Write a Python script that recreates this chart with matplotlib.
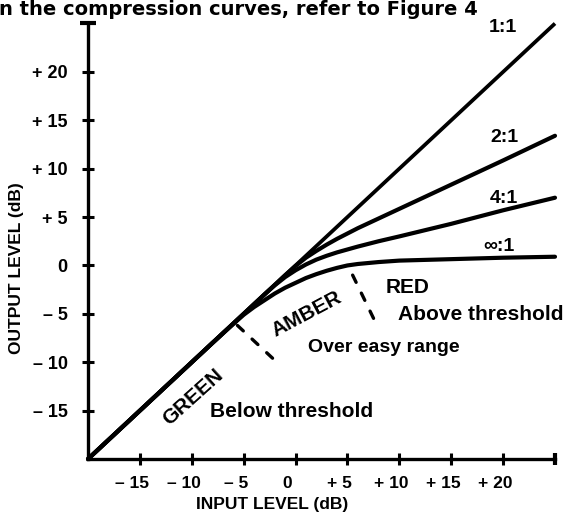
import matplotlib
matplotlib.use("Agg")
import matplotlib.pyplot as plt
import matplotlib.transforms as mtransforms

plt.rcParams["font.family"] = ["Liberation Sans", "DejaVu Sans"]
plt.rcParams["font.weight"] = "bold"

# --- data (dB) ---
input_db = [-20, -8, -6, -5, -4, -3, -2, -1, 0, 1, 2, 3, 4, 5, 6, 8, 10, 15, 20, 25]
out_1to1_x = [-20, 25]
out_1to1_y = [-20, 25]
out_2to1 = [-20, -8, -6, -5, -4, -3, -2, -1, -0.05, 0.8, 1.5, 2.15, 2.75, 3.3, 3.85,
            4.85, 5.85, 8.35, 10.85, 13.4]
out_4to1 = [-20, -8, -6, -5, -4, -3, -2.05, -1.2, -0.5, 0.1, 0.6, 1.0, 1.35, 1.65, 1.95,
            2.5, 3.0, 4.3, 5.7, 7.0]
out_inf = [-20, -8, -6.05, -5.1, -4.3, -3.6, -2.9, -2.3, -1.8, -1.3, -0.9, -0.55, -0.25,
           0.0, 0.15, 0.35, 0.5, 0.65, 0.8, 0.9]

ratio_labels = ["1:1", "2:1", "4:1", "\u221e:1"]
ratio_label_x = [20.0, 20.1, 20.1, 19.6]
ratio_label_y = [24.6, 13.2, 6.9, 1.95]

# region boundaries (green/amber, amber/red)
bound_ga_x = [-5.6, -2.0]
bound_ga_y = [-6.2, -9.8]
bound_ar_x = [5.5, 7.8]
bound_ar_y = [-1.0, -6.1]

x_ticks = [-15, -10, -5, 0, 5, 10, 15, 20]
x_ticklabels = ["\u2013 15", "\u2013 10", "\u2013 5", "0", "+ 5", "+ 10", "+ 15", "+ 20"]
y_ticks = [-15, -10, -5, 0, 5, 10, 15, 20]
y_ticklabels = ["\u2013 15", "\u2013 10", "\u2013 5", "0", "+ 5", "+ 10", "+ 15", "+ 20"]

W, H = 566, 523
fig = plt.figure(figsize=(W / 100, H / 100), dpi=100)
fig.patch.set_facecolor("white")
ax = fig.add_axes([88 / W, 1 - 459 / H, (555 - 88) / W, (459 - 23.5) / H])
ax.set_xlim(-20, 25)
ax.set_ylim(-20, 25)

# ---- curves ----
lw = 3.0
ax.plot(out_1to1_x, out_1to1_y, color="black", lw=2.7, solid_capstyle="butt",
        clip_on=False)
for ys in (out_2to1, out_4to1, out_inf):
    ax.plot(input_db, ys, color="black", lw=lw, solid_capstyle="round",
            solid_joinstyle="round", clip_on=False)

# ---- boundaries ----
for bx, by in ((bound_ga_x, bound_ga_y), (bound_ar_x, bound_ar_y)):
    ax.plot(bx, by, color="black", lw=2.4, ls=(0, (2.4, 3.6)),
            dash_capstyle="round")

# ---- text ----
for lab, lx, ly in zip(ratio_labels, ratio_label_x, ratio_label_y):
    ax.text(lx, ly, lab, fontsize=14, fontweight="bold", ha="center", va="center",
            clip_on=False)

ax.text(-9.85, -13.65, "GREEN", fontsize=15, fontweight="bold", rotation=42,
        ha="center", va="center", rotation_mode="anchor")
ax.text(1.06, -5.03, "AMBER", fontsize=15, fontweight="bold", rotation=28,
        ha="center", va="center", rotation_mode="anchor")
ax.text(8.7, -2.26, "RED", fontsize=15, fontweight="bold", ha="left", va="center")
ax.text(9.86, -5.1, "Above threshold", fontsize=15, fontweight="bold", ha="left",
        va="center", clip_on=False)
ax.text(8.5, -8.52, "Over easy range", fontsize=14, fontweight="bold", ha="center",
        va="center")
ax.text(-8.21, -15.1, "Below threshold", fontsize=15, fontweight="bold", ha="left",
        va="center")

# ---- axes styling ----
for side in ("top", "right"):
    ax.spines[side].set_visible(False)
for side in ("left", "bottom"):
    ax.spines[side].set_linewidth(2.4)
ax.set_xticks(x_ticks)
ax.set_xticklabels(x_ticklabels)
ax.set_yticks(y_ticks)
ax.set_yticklabels(y_ticklabels)
ax.tick_params(axis="both", direction="inout", length=9, width=2.2)
ax.tick_params(axis="x", labelsize=12.5, pad=8)
ax.tick_params(axis="y", labelsize=13, pad=10)
shift = mtransforms.ScaledTranslation(-8 / 100, 0, fig.dpi_scale_trans)
for t in ax.get_xticklabels():
    t.set_fontweight("bold")
    t.set_transform(t.get_transform() + shift)
for t in ax.get_yticklabels():
    t.set_fontweight("bold")

# end caps on the axis lines
ax.plot([0], [1], marker="_", ms=12, mew=3, color="black", transform=ax.transAxes,
        clip_on=False)
ax.plot([1], [0], marker="|", ms=9, mew=3, color="black", transform=ax.transAxes,
        clip_on=False)

fig.text(272 / W, 1 - 505 / H, "INPUT LEVEL (dB)", fontsize=12.5, fontweight="bold",
         ha="center", va="center")
fig.text(17 / W, 1 - 268 / H, "OUTPUT LEVEL (dB)", fontsize=12.5, fontweight="bold",
         ha="center", va="center", rotation=90)

# line of running text from the page above the figure
fig.text(-0.002, 1 - 15 / H, "n the compression curves, refer to Figure 4",
         fontsize=14, fontweight="bold", ha="left", va="baseline",
         family=["DejaVu Sans"])

fig.savefig("out.png", dpi=100)
